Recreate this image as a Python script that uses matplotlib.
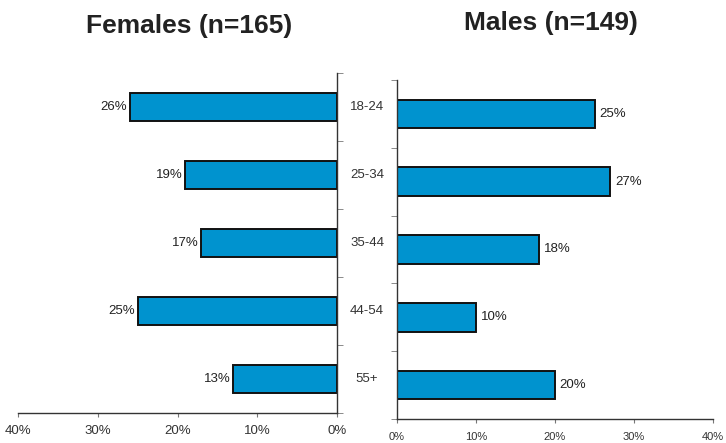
import numpy as np
import matplotlib.pyplot as plt
from matplotlib.ticker import FixedLocator

# age groups and shares (%)
ages = ['18-24', '25-34', '35-44', '44-54', '55+']
females = [26, 19, 17, 25, 13]
males = [25, 27, 18, 10, 20]
x_ticks = [0, 10, 20, 30, 40]

bar_col = '#0093CF'
spine_col = '#333333'
tick_col = '#777777'
plt.rcParams['font.family'] = ['Liberation Sans', 'DejaVu Sans']

fig = plt.figure(figsize=(7.26, 4.43), dpi=100)
W, H = 726, 443
axL = fig.add_axes([18 / W, (H - 413) / H, 319 / W, 340 / H])
axR = fig.add_axes([397 / W, (H - 419) / H, 316 / W, 339 / H])

y = np.arange(len(ages))

#левый - женщины
axL.barh(y, females, height=0.42, color=bar_col, edgecolor='#111111', linewidth=1.4)
axL.set_xlim(40, 0)
axL.set_ylim(len(ages) - 0.5, -0.5)
for i, v in enumerate(females):
    axL.text(v + 0.3, i, f'{v}%', ha='right', va='center', fontsize=9.5, color='#222222')
for i, a in enumerate(ages):
    axL.text(1 + 30 / 319, i, a, transform=axL.get_yaxis_transform(),
             ha='center', va='center', fontsize=9.5, color='#333333')
axL.spines['top'].set_visible(False)
axL.spines['left'].set_visible(False)
axL.yaxis.tick_right()
axL.set_yticks([])
axL.yaxis.set_minor_locator(FixedLocator(np.arange(-0.5, len(ages), 1.0)))
axL.tick_params(axis='y', which='minor', right=True, direction='out', length=4, color=tick_col)
axL.set_xticks(x_ticks)
axL.set_xticklabels([f'{t}%' for t in x_ticks])
axL.tick_params(axis='x', direction='out', length=3, color=tick_col, labelsize=9.5,
                labelcolor='#333333', pad=6)

#правый - мужчины
axR.barh(y, males, height=0.42, color=bar_col, edgecolor='#111111', linewidth=1.4)
axR.set_xlim(0, 40)
axR.set_ylim(len(ages) - 0.5, -0.5)
for i, v in enumerate(males):
    axR.text(v + 0.6, i, f'{v}%', ha='left', va='center', fontsize=9.5, color='#222222')
axR.spines['top'].set_visible(False)
axR.spines['right'].set_visible(False)
axR.set_yticks([])
axR.yaxis.set_minor_locator(FixedLocator(np.arange(-0.5, len(ages), 1.0)))
axR.tick_params(axis='y', which='minor', left=True, direction='out', length=4, color=tick_col)
axR.set_xticks(x_ticks)
axR.set_xticklabels([f'{t}%' for t in x_ticks])
axR.tick_params(axis='x', direction='out', length=3, color=tick_col, labelsize=8,
                labelcolor='#333333', pad=6)

for ax in (axL, axR):
    for s in ax.spines.values():
        s.set_color(spine_col)
        s.set_linewidth(1.0)

fig.text(189 / W, 1 - 26 / H, 'Females (n=165)', ha='center', va='center',
         fontsize=19, fontweight='bold', color='#222222')
fig.text(551 / W, 1 - 23 / H, 'Males (n=149)', ha='center', va='center',
         fontsize=19, fontweight='bold', color='#222222')

fig.savefig('out.png', dpi=100)
